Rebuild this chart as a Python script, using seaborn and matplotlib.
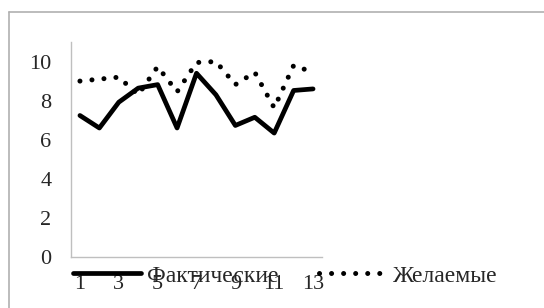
import pandas as pd
import numpy as np
from matplotlib import pyplot as plt
import seaborn as sb
import matplotlib
from matplotlib.lines import Line2D
matplotlib.use('Agg')

points = list(range(1, 14))
actual = [7.24, 6.6, 7.92, 8.64, 8.82, 6.6, 9.4, 8.3, 6.73, 7.15, 6.34, 8.52, 8.6]
desired = [9.0, 9.1, 9.2, 8.3, 9.74, 8.45, 9.95, 10.0, 8.82, 9.45, 7.63, 9.8, 9.45]
xticks = [1, 3, 5, 7, 9, 11, 13]
yticks = [0, 2, 4, 6, 8, 10]

df = pd.DataFrame({'x': points + points,
                   'value': actual + desired,
                   'series': ['Фактические'] * 13 + ['Желаемые'] * 13})

sb.set_style('white')
plt.rcParams['font.family'] = ['Liberation Serif', 'DejaVu Serif']

fig = plt.figure(figsize=(5.44, 3.08), dpi=100)
ax = fig.add_axes([71 / 544, 51 / 308, 251 / 544, 215 / 308])

sb.lineplot(data=df[df.series == 'Фактические'], x='x', y='value',
            color='black', linewidth=3.4, ax=ax, label='Фактические')
sb.lineplot(data=df[df.series == 'Желаемые'], x='x', y='value',
            color='black', linewidth=3.6, ax=ax, label='Желаемые',
            linestyle=(0, (0.01, 2.4)), dash_capstyle='round')

ax.set_xlim(0.54, 13.46)
ax.set_ylim(0, 11)
ax.set_xticks(xticks)
ax.set_yticks(yticks)
ax.tick_params(axis='both', length=0, labelsize=16)
ax.tick_params(axis='x', pad=13)
ax.tick_params(axis='y', pad=14)
ax.set_xlabel('')
ax.set_ylabel('')
for s in ['top', 'right']:
    ax.spines[s].set_visible(False)
for s in ['left', 'bottom']:
    ax.spines[s].set_color('#bfbfbf')
    ax.spines[s].set_linewidth(1)

handles, labels = ax.get_legend_handles_labels()
leg = fig.legend(handles, labels, ncol=2, loc='center left',
                 bbox_to_anchor=(73 / 544, 0.104), frameon=False,
                 fontsize=17, handlelength=2.9, handletextpad=0.25,
                 columnspacing=1.7, borderaxespad=0, borderpad=0)
ax.get_legend().remove()

# outer chart border (top and left edges visible)
fig.add_artist(Line2D([9 / 544, 1], [1 - 12 / 308, 1 - 12 / 308],
                      transform=fig.transFigure, color='#b0b0b0', linewidth=1.2))
fig.add_artist(Line2D([9 / 544, 9 / 544], [0, 1 - 12 / 308],
                      transform=fig.transFigure, color='#b0b0b0', linewidth=1.2))

fig.savefig('out.png', dpi=100)
